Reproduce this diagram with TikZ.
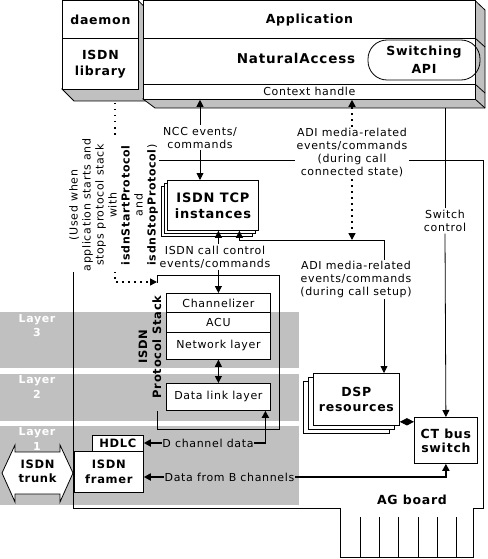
\documentclass[tikz,border=0pt]{standalone}
\usepackage{fontspec}
\setmainfont[LetterSpace=6]{DejaVu Sans}
\usetikzlibrary{arrows.meta}
\definecolor{panel}{HTML}{C0C0C0}
\tikzset{
  box/.style={draw, fill=white, inner sep=0pt, anchor=north west, align=center},
  lbl/.style={font=\fontsize{11}{13}\selectfont, align=center, inner sep=1.5pt},
  wlbl/.style={lbl, fill=white},
  hdr/.style={font=\fontsize{12.5}{15}\selectfont\bfseries, align=center},
  layer/.style={font=\fontsize{11}{14.5}\selectfont\bfseries, text=white, align=center},
  dots/.style={line width=1.5pt, dash pattern=on 1.5pt off 4.5pt},
  fat/.style={line width=1.8pt},
}

\begin{document}
\begin{tikzpicture}[x=1pt, y=-1pt, line width=0.8pt, >={Triangle[length=7pt,width=7pt]}]
\useasboundingbox (0,0) rectangle (487,559);

% layer bands
\fill[panel] (0,312) rectangle (299,368);
\fill[panel] (0,374) rectangle (299,421);
\fill[panel] (0,426) rectangle (299,505);
\node[layer] (lay3) at (37,325.5) {Layer\\3};
\node[layer] (lay2) at (37,387) {Layer\\2};
\node[layer] (lay1) at (37,439) {Layer\\1};

% AG board with edge connector
\draw (73,160) -- (483,160) -- (483,508) -- (473,508) -- (473,557) -- (340,557) -- (340,508) -- (73,508) -- cycle;
\foreach \x in {360,379,398,418,437,456}
  \draw (\x,517) -- (\x,557);
\node[hdr] (board) at (412,500) {AG board};

% start/stop path from the daemon
\coordinate (dmn) at (115,103);
\coordinate (stkin) at (157,282);
\draw[dots,->] (dmn) |- (stkin);
\node[lbl, fill=white, rotate=90, inner sep=1pt] (usage) at (113.5,205)
  {(Used when\\application starts and\\stops protocol stack\\with\\\textbf{isdnStartProtocol}\\and\\\textbf{isdnStopProtocol})};

% daemon / ISDN library
\filldraw[fill=panel] (138,0.5) -- (150,12) -- (150,101) -- (74,101) -- (62,89) -- (138,89) -- cycle;
\node[box, minimum width=76pt, minimum height=37.5pt, font=\fontsize{12.5}{16}\selectfont\bfseries] (daemon) at (62,0.5) {daemon};
\node[box, minimum width=76pt, minimum height=51pt, font=\fontsize{12.5}{16}\selectfont\bfseries] (lib) at (62,38) {ISDN\\library};

% application / NaturalAccess
\filldraw[fill=panel] (475,0.5) -- (485,10) -- (485,108) -- (155,108) -- (143,99) -- (475,99) -- cycle;
\draw (475,38) -- (485,47) (475,84) -- (485,93) (475,99) -- (485,108);
\node[box, minimum width=332pt, minimum height=37.5pt, hdr] (app) at (143,0.5) {Application};
\node[box, minimum width=332pt, minimum height=46pt] (natacc) at (143,38) {};
\node[hdr, font=\fontsize{13.5}{15}\selectfont\bfseries] (natlbl) at (296,58) {NaturalAccess};
\node[draw, rounded corners=19pt, minimum width=112pt, minimum height=40pt, inner sep=0pt,
  font=\fontsize{12.5}{18}\selectfont\bfseries, align=center] (swapi) at (424,60) {Switching\\API};
\node[box, minimum width=332pt, minimum height=15pt, font=\fontsize{11}{11}\selectfont] (ctx) at (143,84) {Context handle};

% TCP instances
\foreach \d in {6,3}
  \draw[fill=white] (167-\d,180+\d) rectangle ++(91,50);
\node[box, minimum width=91pt, minimum height=50pt, font=\fontsize{13}{16}\selectfont\bfseries] (tcp) at (167,180) {ISDN TCP\\instances};

% protocol stack
\draw (157,283) |- (279,275) |- (157,429) -- (157,411);
\node[box, minimum width=104pt, minimum height=19pt, font=\fontsize{11}{13}\selectfont] (chan) at (166,293) {Channelizer};
\node[box, minimum width=104pt, minimum height=20pt, font=\fontsize{11}{13}\selectfont] (acu) at (166,312) {ACU};
\node[box, minimum width=104pt, minimum height=27pt, font=\fontsize{11}{13}\selectfont] (net) at (166,332) {Network layer};
\node[box, minimum width=104pt, minimum height=27pt, font=\fontsize{11}{13}\selectfont] (dll) at (166,383) {Data link layer};
\node[rotate=90, font=\fontsize{11.5}{14}\selectfont\bfseries, align=center] (stack) at (150,347) {ISDN\\Protocol Stack};

% framer and trunk
\node[box, minimum width=69pt, minimum height=41pt, font=\fontsize{11.5}{15}\selectfont\bfseries] (framer) at (74,451) {ISDN\\framer};
\node[box, minimum width=51pt, minimum height=16pt, font=\fontsize{11.5}{14}\selectfont\bfseries] (hdlc) at (92,435) {HDLC};
\draw[fill=white] (2,473) -- (15,445) -- (15,452) -- (60,452) -- (60,445) -- (73,473)
  -- (60,502) -- (60,494) -- (15,494) -- (15,502) -- cycle;
\node[font=\fontsize{11.5}{14}\selectfont\bfseries, align=center] (trunk) at (37.5,471) {ISDN\\trunk};

% DSP and CT bus
\foreach \d in {10,5}
  \draw[fill=white] (313-\d,373+0.8*\d) rectangle ++(86,52);
\node[box, minimum width=86pt, minimum height=52pt, hdr] (dsp) at (313,373) {DSP\\resources};
\node[box, minimum width=63pt, minimum height=46pt, font=\fontsize{12.5}{14}\selectfont\bfseries] (ct) at (414,417) {CT bus\\switch};

% NCC events
\node[lbl] (ncc) at (200,137.5) {NCC events/\\commands};
\draw[->] (ncc.north) -- (ncc.north |- ctx.south);
\draw[->] (ncc.south) -- (ncc.south |- tcp.north);

% ADI media, connected state
\coordinate (junc) at (384,240);
\node[wlbl] (adi1) at (352,153) {ADI media-related\\events/commands\\(during call\\connected state)};
\draw[dots,->] (adi1.north) -- (adi1.north |- ctx.south);
\draw[dots,->] (adi1.south) -- (adi1.south |- junc);

% ADI media, call setup
\draw[->] (junc) -| ([xshift=26.5pt]tcp.south);
\draw[->] (junc) -- (junc |- dsp.north);
\node[wlbl] (adi2) at (356,279.5) {ADI media-related\\events/commands\\(during call setup)};

% call control
\draw[<->] (chan.north |- tcp.south) -- (chan.north);
\node[wlbl] (icc) at (215,257) {ISDN call control\\events/commands};
\draw[<->] (net.south) -- (dll.north);

% switch control
\coordinate (appbase) at (445,108);
\node[lbl] (swc) at (445,221) {Switch\\control};
\draw (swc.north) -- (swc.north |- appbase);
\draw[->] (swc.south) -- (ct.north);

% DSP to CT bus
\coordinate (dspio) at ([yshift=4pt]dsp.south east);
\draw[<->] (dspio) -- (dspio -| ct.west);

% D channel data
\node[lbl, inner sep=0.5pt] (dch) at (208,443) {D channel data};
\coordinate (dllio) at ([xshift=47pt]dll.south);
\draw[fat,->] (dch.west) -- (dch.west -| hdlc.east);
\draw[fat,->] (dch.east) -| (dllio);

% B channel data
\node[lbl, inner sep=0.5pt] (bch) at (229.5,477) {Data from B channels};
\draw[fat,->] (bch.west) -- (bch.west -| framer.east);
\draw[fat,->] (bch.east) -| (ct.south);
\end{tikzpicture}
\end{document}
